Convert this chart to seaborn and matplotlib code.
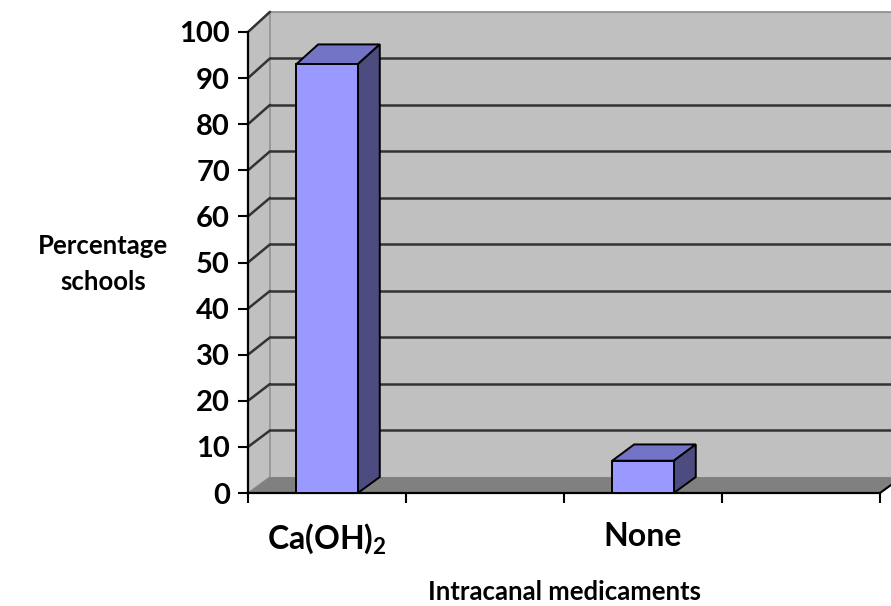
import numpy as np
import pandas as pd
import matplotlib
matplotlib.use("Agg")
import matplotlib.pyplot as plt
from matplotlib.patches import Polygon
from matplotlib.lines import Line2D
import seaborn as sns

# --- data -----------------------------------------------------------------
medicaments = ["Ca(OH)$_2$", "None"]
percent_schools = [93, 7]
# category slots along the x axis (two of them carry no bar and no label)
slot_order = ["Ca(OH)$_2$", "", "None", " "]
y_ticks = list(range(0, 101, 10))

df = pd.DataFrame({"medicament": medicaments, "percent": percent_schools})

# --- style ----------------------------------------------------------------
sns.set_theme(style="white")
plt.rcParams["font.family"] = ["Lato", "DejaVu Sans"]
plt.rcParams["mathtext.fontset"] = "custom"
plt.rcParams["mathtext.rm"] = "Lato:bold"
plt.rcParams["mathtext.it"] = "Lato:bold"
plt.rcParams["mathtext.bf"] = "Lato:bold"
WEIGHT = "bold"

FRONT = "#9999ff"
TOP = "#7474c6"
SIDE = "#4c4c80"
WALL = "#c0c0c0"
FLOOR = "#808080"
GRID = "#333333"

W, H = 891, 606
fig = plt.figure(figsize=(W / 100, H / 100), dpi=100)
fig.patch.set_facecolor("white")
ax = fig.add_axes([248 / W, (H - 493) / H, (880 - 248) / W, (493 - 32) / H])
ax.set_facecolor("none")

# depth of the 3-D box, in data units
DX, DY, SC = 0.139, 3.47, 1.009


def back(x, v):
    return x + DX, v * SC + DY


X0, X1 = -0.5, 3.5

# back wall
bw = [back(X0, 0), back(X1 + 0.3, 0), back(X1 + 0.3, 100), back(X0, 100)]
ax.add_patch(Polygon(bw, closed=True, facecolor=WALL, edgecolor="none",
                     zorder=0.5, clip_on=False))
# top edge of the back wall
ax.add_line(Line2D([back(X0, 100)[0], back(X1 + 0.3, 100)[0]],
                   [back(X0, 100)[1]] * 2, color="#8a8a8a", lw=1.2,
                   zorder=0.6, clip_on=False))
# side wall
sw = [(X0, 0), (X0, 100), back(X0, 100), back(X0, 0)]
ax.add_patch(Polygon(sw, closed=True, facecolor=WALL, edgecolor="#8a8a8a",
                     lw=1.0, zorder=0.7, clip_on=False))
# floor
fl = [(X0, 0), (X1, 0), back(X1, 0), back(X0, 0)]
ax.add_patch(Polygon(fl, closed=True, facecolor=FLOOR, edgecolor="none",
                     zorder=0.8, clip_on=False))
ax.add_line(Line2D([X1, back(X1, 0)[0]], [0, back(X1, 0)[1]], color="black",
                   lw=1.5, zorder=0.9, clip_on=False))

# gridlines on side and back walls
for v in y_ticks[1:-1]:
    bx, by = back(X0, v)
    ax.add_line(Line2D([X0, bx], [v, by], color=GRID, lw=1.8, zorder=1,
                       clip_on=False))
    ax.add_line(Line2D([bx, back(X1 + 0.3, v)[0]], [by, by], color=GRID,
                       lw=1.8, zorder=1, clip_on=False))
ax.add_line(Line2D([X0, back(X0, 100)[0]], [100, back(X0, 100)[1]],
                   color=GRID, lw=1.8, zorder=1, clip_on=False))

# bars (front faces)
sns.barplot(data=df, x="medicament", y="percent", order=slot_order,
            color=FRONT, saturation=1, width=0.39, edgecolor="black",
            linewidth=1.4, ax=ax, zorder=3)

# tops and sides of the bars from the drawn bar geometry
for p in list(ax.patches):
    if not hasattr(p, "get_width") or p.get_height() == 0 or np.isnan(p.get_height()):
        continue
    if p.get_facecolor()[:3] == matplotlib.colors.to_rgb(FRONT):
        x0, w, h = p.get_x(), p.get_width(), p.get_height()
        top = [(x0, h), (x0 + w, h), back(x0 + w, h), back(x0, h)]
        side = [(x0 + w, 0), (x0 + w, h), back(x0 + w, h), back(x0 + w, 0)]
        ax.add_patch(Polygon(top, closed=True, facecolor=TOP,
                             edgecolor="black", lw=1.4, zorder=2.9,
                             clip_on=False))
        ax.add_patch(Polygon(side, closed=True, facecolor=SIDE,
                             edgecolor="black", lw=1.4, zorder=2.9,
                             clip_on=False))

# axes
ax.set_xlim(X0, X1)
ax.set_ylim(0, 100)
ax.set_yticks(y_ticks)
for s in ("top", "right"):
    ax.spines[s].set_visible(False)
for s in ("left", "bottom"):
    ax.spines[s].set_visible(True)
    ax.spines[s].set_color("black")
    ax.spines[s].set_linewidth(1.6)
    ax.spines[s].set_zorder(2)

ax.tick_params(axis="y", direction="out", length=7, width=1.5, color="black",
               pad=6, labelsize=21, left=True)
for t in ax.get_yticklabels():
    t.set_fontweight(WEIGHT)
    t.set_color("black")

ax.set_xticks(range(len(slot_order)))
ax.set_xticklabels(slot_order)
ax.set_xticks(np.arange(X0, X1 + 0.01, 1.0), minor=True)
ax.tick_params(axis="x", which="major", length=0, pad=21, labelsize=23,
               bottom=True)
ax.tick_params(axis="x", which="minor", direction="out", length=7, width=1.5,
               color="black", bottom=True)
for t in ax.get_xticklabels():
    t.set_fontweight(WEIGHT)
    t.set_color("black")

ax.set_ylabel("Percentage\nschools", rotation=0, fontsize=18.5,
              fontweight=WEIGHT, color="black", ha="center", va="center",
              linespacing=1.65)
ax.yaxis.set_label_coords((103 - 248) / (880 - 248), (493 - 264) / 461)
ax.set_xlabel("Intracanal medicaments", fontsize=18.5, fontweight=WEIGHT,
              color="black", va="center")
ax.xaxis.set_label_coords(0.5, (493 - 592) / 461)

fig.savefig("out.png", dpi=100, facecolor="white")
